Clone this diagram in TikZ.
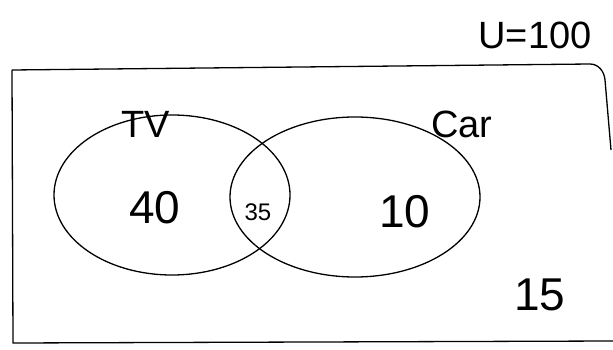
\documentclass[tikz,border=0pt]{standalone}
\usepackage{fontspec}
\setmainfont{Liberation Sans}
\usetikzlibrary{shapes.geometric}
\begin{document}
\begin{tikzpicture}[x=1pt,y=-1pt,
  setline/.style={draw=black,line width=1.3pt},
  hand/.style={font=\fontsize{46}{46}\selectfont,inner sep=0pt},
  lbl/.style={font=\fontsize{38}{38}\selectfont,inner sep=0pt}]
\useasboundingbox (0,0) rectangle (613,350);
% universe box
\draw[setline] (12,70) -- (13,343) -- (613,341);
\draw[setline] (12,70) -- (590,64) to[out=0,in=95] (605,80) -- (611,150);
% sets
\node[setline,ellipse,minimum width=236pt,minimum height=160pt] (tv) at (172,195) {};
\node[setline,ellipse,minimum width=250pt,minimum height=160pt] (car) at (355,197) {};
% labels
\node[lbl] (tvl) at (146,124) {TV};
\node[lbl] (carl) at (462,124) {Car};
\node[lbl] (uni) at (535,35) {U=100};
\node[hand] (n40) at (155,208) {40};
\node[font=\fontsize{24}{24}\selectfont,inner sep=0pt] (n35) at (258,212) {35};
\node[hand] (n10) at (405,212) {10};
\node[hand] (n15) at (540,295) {15};
\end{tikzpicture}
\end{document}
